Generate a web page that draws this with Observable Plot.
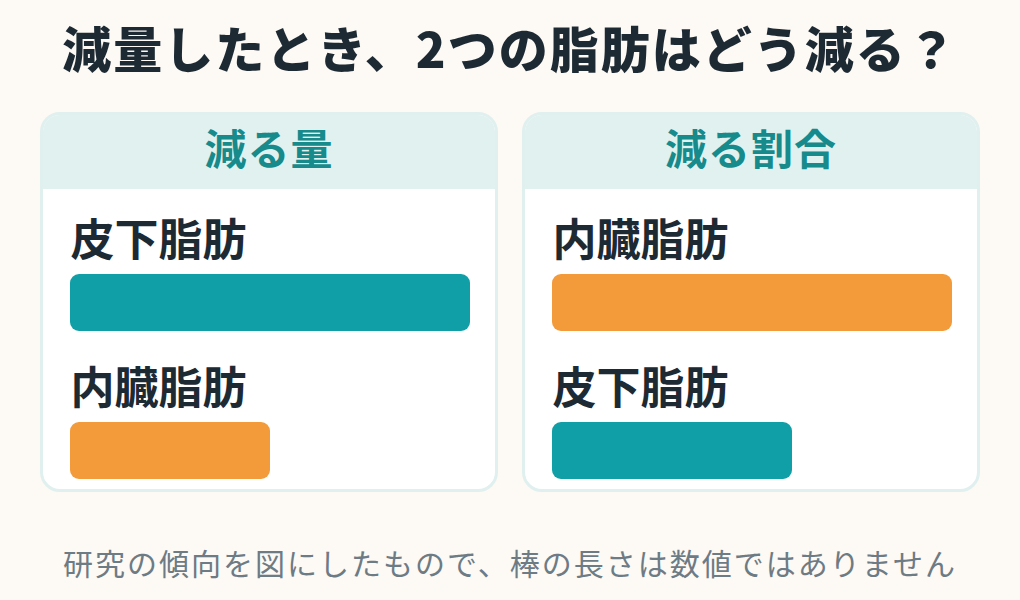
<!DOCTYPE html>
<html lang="ja">
<head>
<meta charset="utf-8">
<script src="https://cdn.jsdelivr.net/npm/d3@7"></script>
<script src="https://cdn.jsdelivr.net/npm/@observablehq/plot@0.6"></script>
<style>
  html, body { margin: 0; padding: 0; }
  body {
    width: 1020px; height: 600px; background: #fdf9f4; overflow: hidden;
    font-family: "Noto Sans CJK JP", "Noto Sans", sans-serif; position: relative;
  }
  #title {
    position: absolute; left: 0; top: 15px; width: 1020px; text-align: center;
    font-size: 49px; font-weight: 900; color: #1d2a33; letter-spacing: 2px; line-height: 64px;
  }
  .panel {
    position: absolute; top: 112px; width: 452px; height: 374px;
    border: 3px solid #dff0ef; border-radius: 20px; background: #ffffff; overflow: hidden;
  }
  .panel .head {
    height: 74px; background: #e1f1f0; color: #178a8b; text-align: center;
    font-size: 42px; font-weight: 700; line-height: 64px; letter-spacing: 1px;
  }
  .panel svg { display: block; }
  #caption {
    position: absolute; left: 0; top: 540px; width: 1020px; text-align: center;
    font-size: 30px; font-weight: 400; color: #6d7b85; letter-spacing: 2px; line-height: 44px;
  }
</style>
</head>
<body>
<div id="title">減量したとき、2つの脂肪はどう減る？</div>
<div class="panel" id="p1" style="left:40px"><div class="head">減る量</div></div>
<div class="panel" id="p2" style="left:522px"><div class="head">減る割合</div></div>
<div id="caption">研究の傾向を図にしたもので、棒の長さは数値ではありません</div>
<script>
// Relative illustrative lengths (longest = 1)
const panelTitles = ["減る量", "減る割合"];
const amountCategories = ["皮下脂肪", "内臓脂肪"];
const amountValues = [1.0, 0.5];
const rateCategories = ["内臓脂肪", "皮下脂肪"];
const rateValues = [1.0, 0.6];
const fatColors = {"皮下脂肪": "#109fa6", "内臓脂肪": "#f39a3b"};

function drawPanel(el, cats, vals) {
  const data = cats.map((c, i) => ({cat: c, v: vals[i]}));
  const chart = Plot.plot({
    width: 452, height: 300,
    marginLeft: 27, marginRight: 25, marginTop: 0, marginBottom: 0,
    style: {background: "transparent", fontFamily: "'Noto Sans CJK JP', sans-serif"},
    x: {domain: [0, 1], axis: null},
    y: {type: "band", domain: cats, range: [85, 381], padding: 0, axis: null},
    color: {domain: Object.keys(fatColors), range: Object.values(fatColors)},
    marks: [
      Plot.barX(data, {x: "v", y: "cat", fill: "cat", insetBottom: 91, rx: 9}),
      Plot.text(data, {x: () => 0, y: "cat", text: "cat", textAnchor: "start", lineAnchor: "bottom",
        dy: -93, fontSize: 44, fontWeight: 700, fill: "#1d2a33"})
    ]
  });
  el.appendChild(chart);
}
drawPanel(document.getElementById("p1"), amountCategories, amountValues);
drawPanel(document.getElementById("p2"), rateCategories, rateValues);
</script>
</body>
</html>
